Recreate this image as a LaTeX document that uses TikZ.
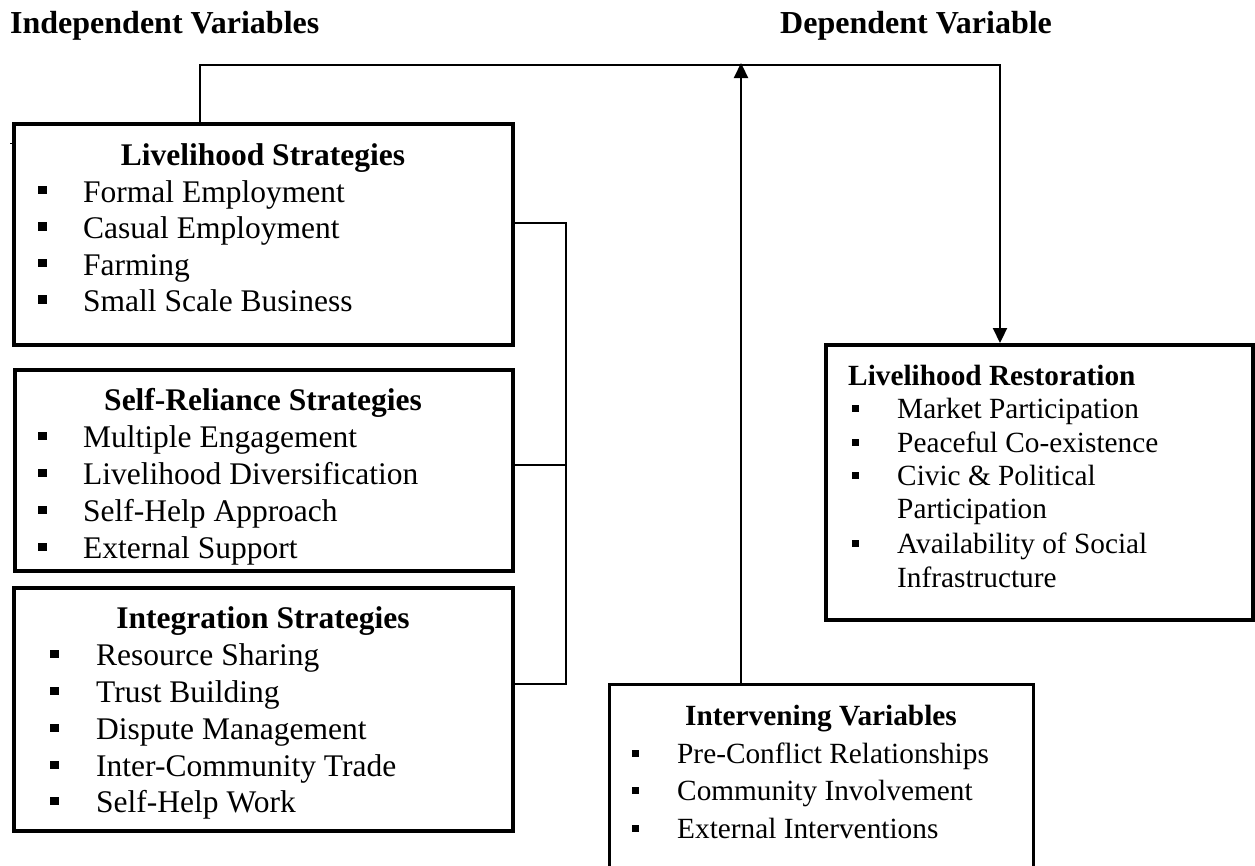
\documentclass[tikz,border=0pt]{standalone}
\usepackage{fontspec}
\setmainfont{Liberation Serif}
\usetikzlibrary{arrows.meta}
% square bullet: box of width #1, raised by #2, side #3
\newcommand{\sqb}[3]{\makebox[#1][l]{\rule[#2]{#3}{#3}}}
\begin{document}
\begin{tikzpicture}[x=1pt,y=-1pt,
  frame/.style={draw, rectangle, inner sep=0pt, outer sep=0pt, anchor=north west},
  conn/.style={line width=2.2pt},
  tip/.style={-{Triangle[width=14pt,length=15pt]}},
  head/.style={anchor=base west, inner sep=0pt, font=\fontsize{32}{32}\selectfont\bfseries},
  ttl/.style={anchor=base, inner sep=0pt, font=\fontsize{31.5}{31.5}\selectfont\bfseries},
  itm/.style={anchor=base west, inner sep=0pt, font=\fontsize{31.5}{31.5}\selectfont},
  ttlsm/.style={inner sep=0pt, font=\fontsize{29.3}{29.3}\selectfont\bfseries},
  itmsm/.style={anchor=base west, inner sep=0pt, font=\fontsize{29.3}{29.3}\selectfont}
]
\useasboundingbox (0,0) rectangle (1255,865);
\clip (0,0) rectangle (1255,865);

% headings
\node[head] (hind) at (10,33) {Independent Variables};
\node[head] (hdep) at (780,33) {Dependent Variable};

% frames
\node[frame, line width=4pt, minimum width=499pt, minimum height=221.5pt] (lsbox) at (14,123.5) {};
\node[frame, line width=3.3pt, minimum width=498pt, minimum height=201pt] (srbox) at (15,370) {};
\node[frame, line width=4pt, minimum width=498.5pt, minimum height=243pt] (isbox) at (14,588) {};
\node[frame, line width=4.5pt, minimum width=427pt, minimum height=275pt] (lrbox) at (826,345) {};
\node[frame, line width=3pt, minimum width=424.5pt, minimum height=195.5pt] (ivbox) at (609,684.5) {};

% stray tick at the left edge
\draw[line width=1pt] (10,143) -- (14,143);

% livelihood strategies
\node[ttl] (lst) at (263,165) {Livelihood Strategies};
\node[itm] (ls1) at (38,202)   {\sqb{45pt}{8pt}{8.5pt}Formal Employment};
\node[itm] (ls2) at (38,238.5) {\sqb{45pt}{8pt}{8.5pt}Casual Employment};
\node[itm] (ls3) at (38,275)   {\sqb{45pt}{8pt}{8.5pt}Farming};
\node[itm] (ls4) at (38,311.5) {\sqb{45pt}{8pt}{8.5pt}Small Scale Business};

% self-reliance strategies
\node[ttl] (srt) at (263,410) {Self-Reliance Strategies};
\node[itm] (sr1) at (38,447) {\sqb{45pt}{7pt}{8.5pt}Multiple Engagement};
\node[itm] (sr2) at (38,484) {\sqb{45pt}{7pt}{8.5pt}Livelihood Diversification};
\node[itm] (sr3) at (38,521) {\sqb{45pt}{7pt}{8.5pt}Self-Help Approach};
\node[itm] (sr4) at (38,558) {\sqb{45pt}{7pt}{8.5pt}External Support};

% integration strategies
\node[ttl] (ist) at (263,628) {Integration Strategies};
\node[itm] (is1) at (50,665) {\sqb{46pt}{7pt}{8.5pt}Resource Sharing};
\node[itm] (is2) at (50,702) {\sqb{46pt}{7pt}{8.5pt}Trust Building};
\node[itm] (is3) at (50,739) {\sqb{46pt}{7pt}{8.5pt}Dispute Management};
\node[itm] (is4) at (50,776) {\sqb{46pt}{7pt}{8.5pt}Inter-Community Trade};
\node[itm] (is5) at (50,812) {\sqb{46pt}{7pt}{8.5pt}Self-Help Work};

% livelihood restoration
\node[ttlsm, anchor=base west] (lrt) at (848,385) {Livelihood Restoration};
\node[itmsm] (lr1) at (852,418) {\sqb{45pt}{6pt}{7pt}Market Participation};
\node[itmsm] (lr2) at (852,452) {\sqb{45pt}{6pt}{7pt}Peaceful Co-existence};
\node[itmsm] (lr3) at (852,485) {\sqb{45pt}{6pt}{7pt}Civic \& Political};
\node[itmsm] (lr3b) at (897,518) {Participation};
\node[itmsm] (lr4) at (852,553) {\sqb{45pt}{6pt}{7pt}Availability of Social};
\node[itmsm] (lr4b) at (897,587) {Infrastructure};

% intervening variables
\node[ttlsm, anchor=base] (ivt) at (821,725) {Intervening Variables};
\node[itmsm] (iv1) at (632,763) {\sqb{45pt}{6.5pt}{7pt}Pre-Conflict Relationships};
\node[itmsm] (iv2) at (632,800) {\sqb{45pt}{6.5pt}{7pt}Community Involvement};
\node[itmsm] (iv3) at (632,838) {\sqb{45pt}{6.5pt}{7pt}External Interventions};

% connectors
\coordinate (tl) at (200,65);
\coordinate (tr) at (1000,65);
\coordinate (up) at (741,63);
\coordinate (j1) at (566,223);
\coordinate (j2) at (566,465);
\coordinate (j3) at (566,684);

\draw[conn, tip, shorten >=2pt] (lsbox.north -| tl) -- (tl) -- (tr) -- (lrbox.north -| tr);
\draw[conn, tip] (ivbox.north -| up) -- (up);
\draw[conn] (lsbox.east |- j1) -- (j1) -- (j3) -- (isbox.east |- j3);
\draw[conn] (srbox.east |- j2) -- (j2);
\end{tikzpicture}
\end{document}
